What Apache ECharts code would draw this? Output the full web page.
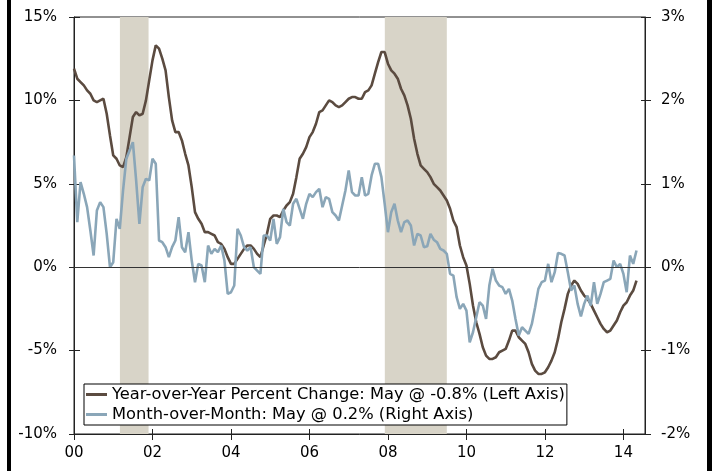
<!DOCTYPE html>
<html>
<head>
<meta charset="utf-8">
<script src="https://cdn.jsdelivr.net/npm/echarts@6/dist/echarts.min.js"></script>
<style>
html,body{margin:0;padding:0;background:#fff;}
#chart{width:715px;height:471px;}
</style>
</head>
<body>
<div id="chart"></div>
<script>
// ---- data ----
const startYear = 2000; // first month: Jan 2000, monthly through May 2014
const yoyValues = [
11.9,11.3,11.1,10.9,10.6,10.4,10.0,9.9,10.0,10.1,
9.2,7.9,6.7,6.5,6.1,6.0,6.6,7.8,9.0,9.3,
9.1,9.2,10.0,11.2,12.4,13.3,13.1,12.5,11.8,10.2,
8.8,8.1,8.1,7.6,6.8,6.1,4.8,3.3,2.9,2.6,
2.1,2.1,2.0,1.9,1.5,1.4,1.1,0.6,0.2,0.2,
0.5,0.8,1.1,1.3,1.3,1.1,0.8,0.6,1.3,2.0,
2.9,3.1,3.1,3.0,3.4,3.7,3.9,4.4,5.4,6.5,
6.8,7.2,7.8,8.1,8.6,9.3,9.4,9.7,10.0,9.9,
9.7,9.6,9.7,9.9,10.1,10.2,10.2,10.1,10.1,10.5,
10.6,10.9,11.6,12.3,12.9,12.9,12.2,11.8,11.6,11.3,
10.7,10.3,9.7,8.9,7.7,6.8,6.1,5.9,5.7,5.4,
5.0,4.8,4.6,4.3,4.0,3.5,2.8,2.4,1.3,0.6,
0.1,-1.0,-2.3,-3.3,-4.0,-4.8,-5.3,-5.5,-5.5,-5.4,
-5.1,-5.0,-4.9,-4.4,-3.8,-3.8,-4.2,-4.4,-4.6,-5.1,
-5.8,-6.2,-6.4,-6.4,-6.3,-6.0,-5.6,-5.1,-4.3,-3.3,
-2.5,-1.6,-1.1,-0.8,-1.0,-1.4,-1.7,-1.9,-2.2,-2.6,
-3.0,-3.4,-3.7,-3.9,-3.8,-3.5,-3.2,-2.7,-2.3,-2.1,
-1.7,-1.4,-0.8
];
const momValues = [
1.34,0.54,1.02,0.88,0.72,0.44,0.14,0.68,0.78,0.72,
0.40,0.00,0.06,0.58,0.46,0.92,1.30,1.40,1.50,1.04,
0.52,0.96,1.06,1.04,1.30,1.24,0.32,0.30,0.24,0.12,
0.24,0.32,0.60,0.24,0.18,0.42,0.08,-0.18,0.04,0.02,
-0.18,0.26,0.16,0.22,0.18,0.26,0.08,-0.32,-0.30,-0.22,
0.46,0.38,0.24,0.20,0.24,0.00,-0.04,-0.08,0.38,0.38,
0.32,0.58,0.28,0.36,0.70,0.54,0.50,0.76,0.82,0.70,
0.58,0.76,0.88,0.84,0.90,0.94,0.72,0.84,0.82,0.66,
0.62,0.56,0.74,0.92,1.16,0.90,0.86,0.86,1.08,0.86,
0.88,1.10,1.24,1.24,1.08,0.76,0.42,0.66,0.76,0.56,
0.42,0.54,0.56,0.50,0.26,0.40,0.38,0.24,0.25,0.40,
0.33,0.30,0.22,0.20,0.16,-0.08,-0.10,-0.36,-0.50,-0.44,
-0.52,-0.90,-0.78,-0.60,-0.42,-0.46,-0.62,-0.22,-0.02,-0.16,
-0.22,-0.24,-0.32,-0.26,-0.40,-0.62,-0.82,-0.72,-0.76,-0.80,
-0.68,-0.48,-0.26,-0.18,-0.16,0.04,-0.18,-0.06,0.17,0.16,
0.14,-0.06,-0.28,-0.22,-0.44,-0.59,-0.44,-0.34,-0.46,-0.18,
-0.44,-0.32,-0.18,-0.16,-0.14,0.08,0.00,0.04,-0.08,-0.30,
0.14,0.04,0.20
];
const recessions = [[2001.17, 2001.9], [2007.92, 2009.5]];
const seriesNames = [
  'Year-over-Year Percent Change: May @ -0.8% (Left Axis)',
  'Month-over-Month: May @ 0.2% (Right Axis)'
];
const leftAxisRange = [-10, 15, 5];
const rightAxisRange = [-2, 3, 1];
const xAxisRange = [2000, 2014.55, 2];

// ---- build ----
const toPairs = arr => arr.map((v, i) => [startYear + i / 12, v]);
const FONT = 'DejaVu Sans';
const BROWN = '#5b4b40';
const BLUE = '#8aa6b8';
const AX = '#222';

const chart = echarts.init(document.getElementById('chart'), null, {renderer: 'canvas'});

const xFmt = v => (Math.abs(v - Math.round(v)) < 1e-6 && Math.round(v) % 2 === 0) ? String(Math.round(v) % 100).padStart(2, '0') : '';

const baseX = {
  type: 'value', min: xAxisRange[0], max: xAxisRange[1], interval: xAxisRange[2],
  splitLine: {show: false}
};
const baseYL = {type: 'value', min: leftAxisRange[0], max: leftAxisRange[1], interval: leftAxisRange[2], splitLine: {show: false}, position: 'left'};
const baseYR = {type: 'value', min: rightAxisRange[0], max: rightAxisRange[1], interval: rightAxisRange[2], splitLine: {show: false}, position: 'right'};

chart.setOption({
  animation: false,
  backgroundColor: '#fff',
  grid: {left: 74, right: 70, top: 17, bottom: 37, show: true, borderColor: AX, borderWidth: 1, backgroundColor: 'transparent'},
  legend: {
    left: 84, top: 384, orient: 'vertical',
    backgroundColor: '#fff', borderColor: '#000', borderWidth: 1,
    padding: [2, 2, 2, 2], itemGap: 3, itemWidth: 21, itemHeight: 3,
    icon: 'rect',
    textStyle: {fontFamily: FONT, fontSize: 16.3, color: '#000', lineHeight: 17},
    data: seriesNames
  },
  xAxis: [
    Object.assign({}, baseX, {
      position: 'bottom',
      axisLine: {show: true, onZero: false, lineStyle: {color: AX, width: 1}},
      axisTick: {show: true, inside: false, length: 6, lineStyle: {color: AX}},
      axisLabel: {show: true, formatter: xFmt, margin: 12, fontFamily: FONT, fontSize: 15, color: '#000', showMaxLabel: false}
    }),
    Object.assign({}, baseX, {
      position: 'bottom',
      axisLine: {show: false, onZero: false},
      axisTick: {show: true, inside: true, length: 5, lineStyle: {color: AX}},
      axisLabel: {show: false}
    })
  ],
  yAxis: [
    Object.assign({}, baseYL, {
      axisLine: {show: true, onZero: false, lineStyle: {color: AX}},
      axisTick: {show: true, inside: false, length: 5, lineStyle: {color: AX}},
      axisLabel: {formatter: v => v + '%', margin: 17, fontFamily: FONT, fontSize: 15, color: '#000'}
    }),
    Object.assign({}, baseYR, {
      axisLine: {show: true, onZero: false, lineStyle: {color: AX}},
      axisTick: {show: true, inside: false, length: 6, lineStyle: {color: AX}},
      axisLabel: {formatter: v => v + '%', margin: 16, fontFamily: FONT, fontSize: 15, color: '#000'}
    }),
    Object.assign({}, baseYL, {
      axisLine: {show: false, onZero: false},
      axisTick: {show: true, inside: true, length: 6, lineStyle: {color: AX}},
      axisLabel: {show: false}
    }),
    Object.assign({}, baseYR, {
      axisLine: {show: false, onZero: false},
      axisTick: {show: true, inside: true, length: 4, lineStyle: {color: AX}},
      axisLabel: {show: false}
    })
  ],
  series: [
    {
      name: seriesNames[0], type: 'line', xAxisIndex: 0, yAxisIndex: 0,
      data: toPairs(yoyValues), showSymbol: false, symbol: 'none',
      lineStyle: {color: BROWN, width: 2.6}, itemStyle: {color: BROWN},
      z: 3,
      markArea: {
        silent: true,
        itemStyle: {color: '#d8d4c8', opacity: 1},
        data: recessions.map(r => [{xAxis: r[0]}, {xAxis: r[1]}])
      },
      markLine: {
        silent: true, symbol: 'none', animation: false,
        label: {show: false},
        lineStyle: {color: '#333', width: 1, type: 'solid'},
        data: [{yAxis: 0}]
      }
    },
    {
      name: seriesNames[1], type: 'line', xAxisIndex: 0, yAxisIndex: 1,
      data: toPairs(momValues), showSymbol: false, symbol: 'none',
      lineStyle: {color: BLUE, width: 2.6}, itemStyle: {color: BLUE},
      z: 4
    }
  ],
  graphic: [
    {type: 'rect', shape: {x: 7, y: 0, width: 4, height: 471}, style: {fill: '#000'}, silent: true},
    {type: 'rect', shape: {x: 707, y: 0, width: 5, height: 471}, style: {fill: '#000'}, silent: true}
  ]
});
</script>
</body>
</html>
